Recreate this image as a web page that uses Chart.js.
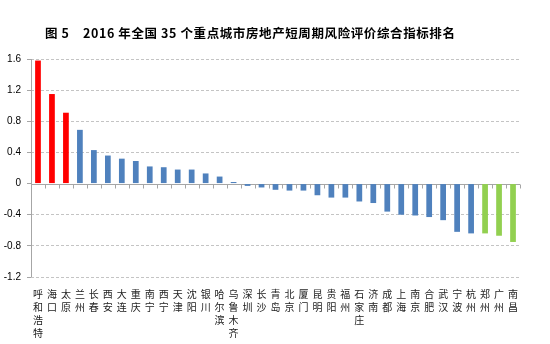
<!DOCTYPE html>
<html>
<head>
<meta charset="utf-8">
<script src="https://cdn.jsdelivr.net/npm/chart.js@4.4.0/dist/chart.umd.min.js"></script>
<style>
  html, body { margin: 0; padding: 0; background: #fff; }
  #wrap { width: 550px; height: 344px; }
</style>
</head>
<body>
<div id="wrap"><canvas id="riskChart"></canvas></div>
<script>
// 35 cities, ranked by composite short-cycle risk score
const cities = ['呼和浩特', '海口', '太原', '兰州', '长春', '西安', '大连', '重庆', '南宁', '西宁',
  '天津', '沈阳', '银川', '哈尔滨', '乌鲁木齐', '深圳', '长沙', '青岛', '北京', '厦门',
  '昆明', '贵阳', '福州', '石家庄', '济南', '成都', '上海', '南京', '合肥', '武汉',
  '宁波', '杭州', '郑州', '广州', '南昌'];
const scores = [1.58, 1.15, 0.91, 0.69, 0.43, 0.36, 0.32, 0.29, 0.22, 0.21,
  0.18, 0.18, 0.13, 0.09, 0.02, -0.03, -0.05, -0.08, -0.09, -0.09,
  -0.15, -0.18, -0.18, -0.23, -0.25, -0.36, -0.40, -0.41, -0.43, -0.47,
  -0.62, -0.64, -0.64, -0.67, -0.75];
const yMin = -1.2, yMax = 1.6, yStep = 0.4;
const figLabel = '图 5';
const titleText = '2016 年全国 35 个重点城市房地产短周期风险评价综合指标排名';

const RED = '#ff0000', BLUE = '#4f81bd', GREEN = '#92d050';
const GRID = '#c4c4c4', AXIS = '#a6a6a6';

// top 3 red, bottom 3 green, the rest blue
const barColors = scores.map((v, i) => i < 3 ? RED : (i >= scores.length - 3 ? GREEN : BLUE));

// zero line, left axis line, little tick marks under the zero line, and the title
const axisLines = {
  id: 'axisLines',
  beforeDatasetsDraw(chart) {
    const { ctx, chartArea, scales: { y } } = chart;
    const y0 = Math.round(y.getPixelForValue(0)) + 0.5;
    ctx.save();
    ctx.strokeStyle = AXIS;
    ctx.lineWidth = 1;
    ctx.setLineDash([]);
    ctx.beginPath();
    ctx.moveTo(chartArea.left, y0);
    ctx.lineTo(chartArea.right, y0);
    const step = (chartArea.right - chartArea.left) / cities.length;
    for (let i = 1; i <= cities.length; i++) {
      const px = Math.round(chartArea.left + i * step) + 0.5;
      ctx.moveTo(px, y0);
      ctx.lineTo(px, y0 + 4);
    }
    const lx = Math.round(chartArea.left) + 0.5;
    ctx.moveTo(lx, chartArea.top);
    ctx.lineTo(lx, chartArea.bottom);
    ctx.stroke();
    ctx.restore();
  },
  afterDraw(chart) {
    const ctx = chart.ctx;
    ctx.save();
    ctx.font = 'bold 12.5px "Noto Sans CJK SC", sans-serif';
    ctx.letterSpacing = '0.6px';
    ctx.fillStyle = '#000';
    ctx.textBaseline = 'middle';
    ctx.textAlign = 'left';
    ctx.fillText(figLabel, 45, 33);
    ctx.fillText(titleText, 83, 33);
    ctx.restore();
  }
};

new Chart(document.getElementById('riskChart'), {
  type: 'bar',
  data: {
    labels: cities.map(c => c.split('')),
    datasets: [{
      data: scores,
      backgroundColor: barColors,
      barPercentage: 0.41,
      categoryPercentage: 1
    }]
  },
  options: {
    responsive: true,
    maintainAspectRatio: false,
    animation: false,
    layout: { padding: { top: 59, right: 30, bottom: 0, left: 0 } },
    plugins: {
      legend: { display: false },
      title: { display: false },
      tooltip: { enabled: false }
    },
    scales: {
      x: {
        afterFit(scale) { scale.height = 67; },
        grid: { display: false, drawTicks: false },
        border: { display: false },
        ticks: {
          autoSkip: false,
          maxRotation: 0,
          padding: 11,
          color: '#222',
          font: { family: '"Noto Sans CJK SC", sans-serif', size: 10, lineHeight: 1.3 }
        }
      },
      y: {
        min: yMin,
        max: yMax,
        afterFit(scale) { scale.width = 31; },
        border: { display: false, dash: [3, 2] },
        grid: {
          color: c => c.tick && c.tick.value === 0 ? 'rgba(0,0,0,0)' : GRID,
          tickColor: AXIS,
          tickBorderDash: [],
          tickLength: 4
        },
        ticks: {
          stepSize: yStep,
          padding: 6,
          color: '#000',
          font: { family: '"Liberation Sans", Arial, sans-serif', size: 10 },
          callback: v => String(Number(v.toFixed(1)))
        }
      }
    }
  },
  plugins: [axisLines]
});
</script>
</body>
</html>
